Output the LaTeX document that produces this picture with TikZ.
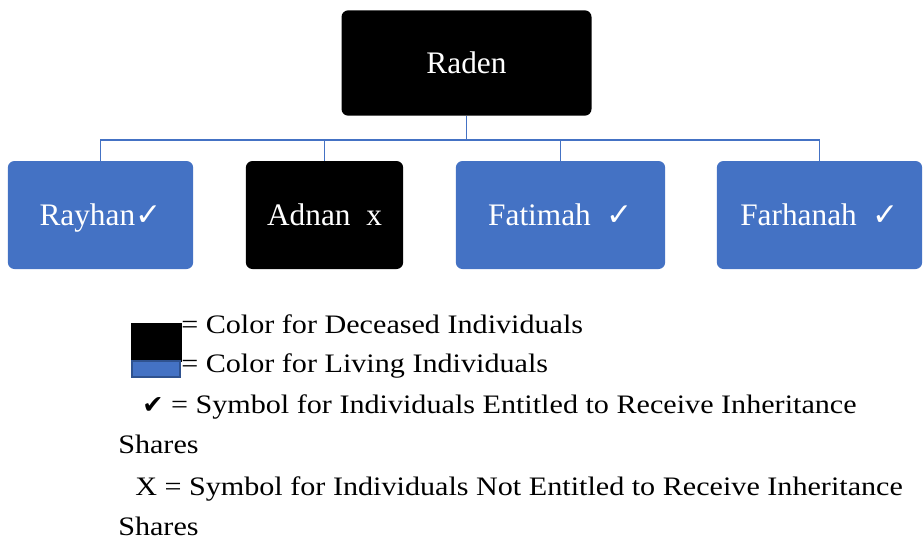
\documentclass[tikz,border=0pt]{standalone}
\usepackage{fontspec}
\setmainfont{Liberation Serif}
\newfontfamily\symfont{DejaVu Sans}
\newfontfamily\legfont[FakeStretch=1.13]{Liberation Serif}
\usepackage{xcolor}
\usetikzlibrary{positioning}
\definecolor{livblue}{HTML}{4472C4}
\definecolor{livedge}{HTML}{2F528F}
\newcommand{\chk}{{\symfont\char"2713}}

\begin{document}
\begin{tikzpicture}[x=0.75pt, y=-0.75pt,
		person/.style={rounded corners=5pt, text=white, font=\fontsize{23.5}{26}\selectfont, inner sep=0pt, text height=17pt, text depth=2pt},
		dead/.style={person, fill=black},
		alive/.style={person, fill=livblue},
		link/.style={livblue, line width=1.1pt},
		legend/.style={anchor=base west, inner sep=0pt, font=\legfont\fontsize{20}{24}\selectfont}]
				\useasboundingbox (0,0) rectangle (924,540);
				
				\node[dead, minimum width=187.5pt, minimum height=79pt] (raden) at (466.5,63) {Raden};
				
				\node[alive, minimum width=139pt, minimum height=81pt] (rayhan) at (100.5,215) {Rayhan\chk};
				\node[dead, minimum width=118pt, minimum height=81pt] (adnan) at (324.5,215) {Adnan\ \ x};
				\node[alive, minimum width=157pt, minimum height=81pt] (fatimah) at (560.5,215) {Fatimah\ \ \chk};
				\node[alive, minimum width=154pt, minimum height=81pt] (farhanah) at (819.5,215) {Farhanah\ \ \chk};
				
				\coordinate (bus) at (466.5,140);
				\draw[link] (raden.south) -- (bus);
				\foreach \kid in {rayhan, adnan, fatimah, farhanah}
					\draw[link] (\kid.north) -- (\kid.north |- bus) -- (bus);
				
				% legend
				\draw[fill=black, draw=black] (131,323) rectangle (181,361);
				\draw[fill=livblue, draw=livedge, line width=1pt] (132,361) rectangle (180,377);
				\node[legend] (deceased) at (181,333) {= Color for Deceased Individuals};
				\node[legend] (living) at (181,372) {= Color for Living Individuals};
				\node[legend] (entitled) at (142,413) {{\symfont\fontsize{19}{22}\selectfont\char"2714}\ = Symbol for Individuals Entitled to Receive Inheritance};
				\node[legend] (shares1) at (118,453) {Shares};
				\node[legend] (notentitled) at (135,495) {X = Symbol for Individuals Not Entitled to Receive Inheritance};
				\node[legend] (shares2) at (118,535) {Shares};
			\end{tikzpicture}
\end{document}
